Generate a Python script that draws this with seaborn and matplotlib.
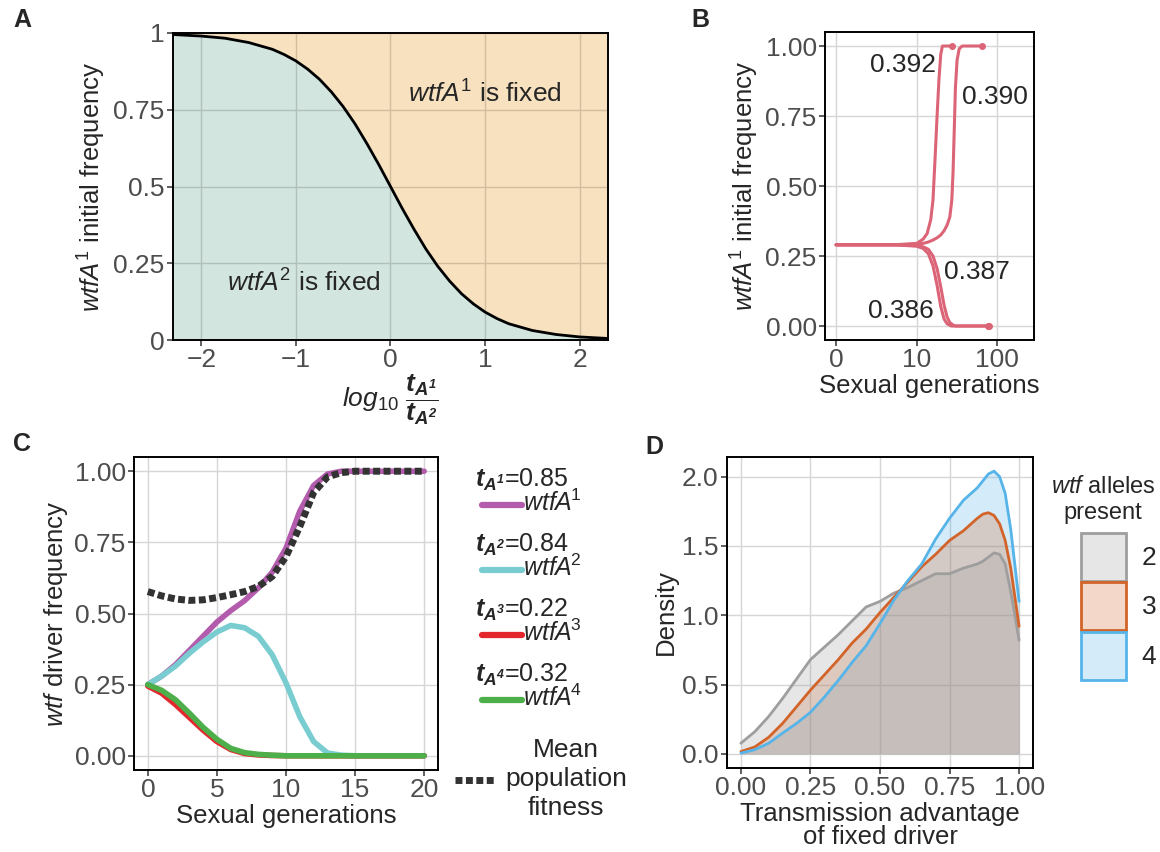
import numpy as np
import matplotlib
matplotlib.use("Agg")
import matplotlib.pyplot as plt
import seaborn as sns
from matplotlib.lines import Line2D
from matplotlib.patches import Patch
from matplotlib.colors import to_rgba

# ---------------- data ----------------
# A: boundary between fixation outcomes
a_logratio = [-2.3, -2.0, -1.75, -1.5, -1.25, -1.125, -1.0, -0.875, -0.75, -0.625, -0.5,
              -0.375, -0.25, -0.125, 0.0, 0.125, 0.25, 0.375, 0.5, 0.625, 0.75, 0.875,
              1.0, 1.125, 1.25, 1.5, 1.75, 2.0, 2.3]
a_freq = [0.995, 0.99, 0.983, 0.969, 0.947, 0.930, 0.909, 0.882, 0.849, 0.808, 0.760,
          0.704, 0.640, 0.572, 0.5, 0.428, 0.360, 0.296, 0.240, 0.192, 0.151, 0.118,
          0.091, 0.070, 0.053, 0.031, 0.018, 0.010, 0.005]

# B: trajectories for four transmission values
b_labels = ["0.392", "0.390", "0.387", "0.386"]
b_gen_392 = [0, 5, 10, 12, 13.5, 15, 16, 17, 18, 19, 20, 21, 28]
b_freq_392 = [0.29, 0.29, 0.295, 0.31, 0.33, 0.38, 0.45, 0.6, 0.75, 0.88, 0.97, 1.0, 1.0]
b_gen_390 = [0, 5, 10, 12, 14, 16, 18, 20, 22, 24, 26, 27.5, 28.5, 29.5, 30.5, 32, 34, 37, 65]
b_freq_390 = [0.29, 0.29, 0.292, 0.295, 0.30, 0.307, 0.315, 0.325, 0.34, 0.36, 0.39,
              0.45, 0.55, 0.70, 0.85, 0.95, 0.99, 1.0, 1.0]
b_gen_387 = [0, 5, 10, 12, 14, 16, 18, 20, 22, 24, 26, 29, 31, 80]
b_freq_387 = [0.29, 0.29, 0.287, 0.283, 0.274, 0.25, 0.205, 0.14, 0.075, 0.032, 0.012,
              0.002, 0.0, 0.0]
b_gen_386 = [0, 5, 10, 12, 14, 16, 18, 20, 22, 24, 27, 78]
b_freq_386 = [0.29, 0.29, 0.285, 0.277, 0.258, 0.215, 0.145, 0.07, 0.025, 0.008, 0.0, 0.0]

# C: four-driver simulation
c_gen = list(range(21))
c_wtfA1 = [0.25, 0.28, 0.32, 0.37, 0.42, 0.47, 0.51, 0.545, 0.59, 0.645, 0.73, 0.86,
           0.95, 0.99, 1.0, 1.0, 1.0, 1.0, 1.0, 1.0, 1.0]
c_wtfA2 = [0.25, 0.28, 0.315, 0.36, 0.40, 0.435, 0.458, 0.45, 0.42, 0.355, 0.256, 0.137,
           0.05, 0.01, 0.002, 0.0, 0.0, 0.0, 0.0, 0.0, 0.0]
c_wtfA3 = [0.245, 0.22, 0.18, 0.135, 0.09, 0.05, 0.022, 0.008, 0.003, 0.001, 0.0, 0.0,
           0.0, 0.0, 0.0, 0.0, 0.0, 0.0, 0.0, 0.0, 0.0]
c_wtfA4 = [0.25, 0.23, 0.197, 0.15, 0.10, 0.058, 0.026, 0.011, 0.005, 0.002, 0.0, 0.0,
           0.0, 0.0, 0.0, 0.0, 0.0, 0.0, 0.0, 0.0, 0.0]
c_fitness = [0.577, 0.562, 0.551, 0.546, 0.548, 0.556, 0.566, 0.577, 0.595, 0.63, 0.70,
             0.806, 0.925, 0.98, 0.995, 1.0, 1.0, 1.0, 1.0, 1.0, 1.0]
c_tvals = ["0.85", "0.84", "0.22", "0.32"]

# D: density of transmission advantage of the fixed driver
d_x = [0.0, 0.05, 0.1, 0.15, 0.2, 0.25, 0.3, 0.35, 0.4, 0.45, 0.5, 0.55, 0.6, 0.65,
       0.7, 0.75, 0.8, 0.85, 0.87, 0.89, 0.91, 0.93, 0.95, 0.97, 0.985, 1.0]
d_dens_2 = [0.077, 0.16, 0.27, 0.40, 0.54, 0.68, 0.77, 0.86, 0.96, 1.06, 1.10, 1.16, 1.20,
            1.25, 1.30, 1.30, 1.34, 1.37, 1.39, 1.42, 1.45, 1.44, 1.37, 1.17, 1.0, 0.82]
d_dens_3 = [0.017, 0.05, 0.12, 0.22, 0.34, 0.46, 0.57, 0.68, 0.80, 0.90, 1.02, 1.13, 1.24,
            1.35, 1.44, 1.54, 1.61, 1.70, 1.73, 1.74, 1.72, 1.66, 1.54, 1.34, 1.13, 0.92]
d_dens_4 = [0.005, 0.03, 0.077, 0.15, 0.22, 0.30, 0.41, 0.53, 0.66, 0.78, 0.94, 1.11, 1.25,
            1.37, 1.55, 1.70, 1.83, 1.92, 1.97, 2.02, 2.04, 2.0, 1.88, 1.62, 1.36, 1.10]
d_groups = ["2", "3", "4"]

# ---------------- style ----------------
sns.set_style("whitegrid")
plt.rcParams['font.family'] = ['Liberation Sans', 'DejaVu Sans']
plt.rcParams.update({
    'mathtext.fontset': 'custom',
    'mathtext.rm': 'Liberation Sans',
    'mathtext.it': 'Liberation Sans:italic',
    'mathtext.bf': 'Liberation Sans:bold:italic',
    'xtick.bottom': True,
    'ytick.left': True,
})

W, H = 1160, 852
fig = plt.figure(figsize=(W / 100, H / 100), dpi=100)

TICK = 19
LAB = 18.5


def box(l, t, r, b):
    return [l / W, 1 - b / H, (r - l) / W, (b - t) / H]


def style_axes(ax, size=TICK):
    ax.tick_params(axis='both', length=4, width=1.1, color='#333333',
                   labelcolor='#4d4d4d', labelsize=size, pad=2)
    for s in ax.spines.values():
        s.set_color('black')
        s.set_linewidth(1.4)
    ax.grid(True, color='#d6d6d6', lw=1.0)
    ax.set_axisbelow(True)


pink = '#dc6477'
c_cols = ['#b35cad', '#79cdd0', '#e3262b', '#4daf4a']
d_cols = ['#9e9e9e', '#d2642a', '#56b4e9']

# ---------------- A ----------------
axA = fig.add_axes(box(173, 33, 608, 340))
style_axes(axA)
axA.grid(True, color='#c4c4c4', lw=1.0)
axA.fill_between(a_logratio, a_freq, 0, color='#93beaf', alpha=0.4, lw=0)
axA.fill_between(a_logratio, a_freq, 1, color='#edb461', alpha=0.4, lw=0)
sns.lineplot(x=a_logratio, y=a_freq, color='black', lw=2.0, ax=axA)
axA.set_xlim(-2.3, 2.3)
axA.set_ylim(0, 1)
axA.set_xticks([-2, -1, 0, 1, 2])
axA.set_yticks([0, 0.25, 0.5, 0.75, 1])
axA.set_yticklabels(["0", "0.25", "0.5", "0.75", "1"])
axA.text(1.0, 0.80, r"$\mathit{wtfA}^{\mathit{1}}$ is fixed", ha='center', va='center', fontsize=19)
axA.text(-0.92, 0.186, r"$\mathit{wtfA}^{\mathit{2}}$ is fixed", ha='center', va='center', fontsize=19)
axA.set_ylabel(r"$\mathit{wtfA}^{\mathit{1}}$ initial frequency", fontsize=LAB, labelpad=4)
axA.set_xlabel(r"$\mathit{log}_{\mathit{10}}\ \dfrac{\mathbf{t}_{\mathbf{A^1}}}{\mathbf{t}_{\mathbf{A^2}}}$",
               fontsize=19, labelpad=0)

# ---------------- B ----------------
axB = fig.add_axes(box(825, 32, 1034, 340))
style_axes(axB)
axB.set_xscale('function', functions=(lambda v: np.arcsinh(np.asarray(v) / 2.0),
                                      lambda v: 2.0 * np.sinh(np.asarray(v))))
b_series = [(b_gen_392, b_freq_392), (b_gen_390, b_freq_390),
            (b_gen_387, b_freq_387), (b_gen_386, b_freq_386)]
for gx, gy in b_series:
    sns.lineplot(x=gx, y=gy, color=pink, lw=2.2, ax=axB, sort=False, estimator=None)
    axB.plot(gx[-1], gy[-1], 'o', color=pink, ms=4)
axB.set_xlim(-0.645, 290)
axB.set_ylim(-0.05, 1.05)
axB.set_xticks([0, 10, 100])
axB.set_xticklabels(["0", "10", "100"])
axB.xaxis.set_minor_locator(matplotlib.ticker.NullLocator())
axB.set_yticks([0, 0.25, 0.5, 0.75, 1.0])
axB.set_yticklabels(["0.00", "0.25", "0.50", "0.75", "1.00"])
b_text_pos = [(6.74, 0.932), (94.5, 0.819), (56.2, 0.192), (6.2, 0.053)]
for lab, (tx, ty) in zip(b_labels, b_text_pos):
    axB.text(tx, ty, lab, ha='center', va='center', fontsize=19)
axB.set_xlabel("Sexual generations", fontsize=LAB, labelpad=1)
axB.set_ylabel(r"$\mathit{wtfA}^{\mathit{1}}$ initial frequency", fontsize=LAB, labelpad=3)

# ---------------- C ----------------
axC = fig.add_axes(box(134, 457, 438, 770))
style_axes(axC)
for ys, col in zip([c_wtfA1, c_wtfA2, c_wtfA3, c_wtfA4], c_cols):
    sns.lineplot(x=c_gen, y=ys, color=col, lw=4, ax=axC)
axC.plot(c_gen, c_fitness, color='#333333', lw=5, linestyle=(0, (1.0, 0.5)),
         dash_capstyle='butt')
axC.set_xlim(-1, 21)
axC.set_ylim(-0.05, 1.05)
axC.set_xticks([0, 5, 10, 15, 20])
axC.set_yticks([0, 0.25, 0.5, 0.75, 1.0])
axC.set_yticklabels(["0.00", "0.25", "0.50", "0.75", "1.00"])
axC.set_xlabel("Sexual generations", fontsize=LAB, labelpad=1)
axC.set_ylabel(r"$\mathit{wtf}$ driver frequency", fontsize=LAB, labelpad=3)

# legend for C, built by hand
for i, (tv, col) in enumerate(zip(c_tvals, c_cols)):
    n = str(i + 1)
    ty = 480 + 65 * i
    fig.text(475 / W, 1 - ty / H,
             r"$\mathbf{t}_{\mathbf{A}^{\mathbf{" + n + r"}}}$=" + tv,
             ha='left', va='center', fontsize=18)
    fig.add_artist(Line2D([482 / W, 522 / W], [1 - (ty + 25) / H] * 2,
                          transform=fig.transFigure, color=col, lw=4.5))
    fig.text(523 / W, 1 - (ty + 23) / H, r"$\mathit{wtfA}^{\!\mathit{" + n + r"}}$",
             ha='left', va='center', fontsize=18)
fig.add_artist(Line2D([455 / W, 494 / W], [1 - 780 / H] * 2, transform=fig.transFigure,
                      color='#333333', lw=5, linestyle=(0, (1.0, 0.5)),
                      dash_capstyle='butt'))
fig.text(566 / W, 1 - 779 / H, "Mean\npopulation\nfitness", ha='center', va='center',
         fontsize=19, linespacing=1.25)

# ---------------- D ----------------
axD = fig.add_axes(box(727, 457, 1033, 768))
style_axes(axD)
d_series = [d_dens_2, d_dens_3, d_dens_4]
for ys, col in reversed(list(zip(d_series, d_cols))):
    axD.fill_between(d_x, ys, 0, color=col, alpha=0.25, lw=0)
for ys, col in zip(d_series, d_cols):
    sns.lineplot(x=d_x, y=ys, color=col, lw=2.0, ax=axD)
axD.set_xlim(-0.05, 1.05)
axD.set_ylim(-0.102, 2.142)
axD.set_xticks([0, 0.25, 0.5, 0.75, 1.0])
axD.set_xticklabels(["0.00", "0.25", "0.50", "0.75", "1.00"])
axD.set_yticks([0, 0.5, 1.0, 1.5, 2.0])
axD.set_xlabel("Transmission advantage\nof fixed driver", fontsize=LAB, labelpad=1,
               linespacing=0.95)
axD.set_ylabel("Density", fontsize=LAB, labelpad=3)
handles = [Patch(facecolor=to_rgba(c, 0.25), edgecolor=c, lw=2) for c in d_cols]
axD.legend(handles, d_groups, loc='upper left', bbox_to_anchor=(1081 / W, 1 - 533 / H),
           bbox_transform=fig.transFigure, frameon=False, fontsize=19,
           handlelength=1.7, handleheight=2.42, labelspacing=0.05,
           handletextpad=0.6, borderpad=0, borderaxespad=0)
fig.text(1103 / W, 1 - 500 / H, "$\\mathit{wtf}$ alleles\npresent", ha='center',
         va='center', fontsize=17, linespacing=1.25)

# panel letters
for lab, px, py in [("A", 22, 20), ("B", 700, 20), ("C", 22, 444), ("D", 654, 447)]:
    fig.text(px / W, 1 - py / H, lab, fontsize=18, fontweight='bold', ha='center', va='center')

fig.savefig("out.png", dpi=100)
